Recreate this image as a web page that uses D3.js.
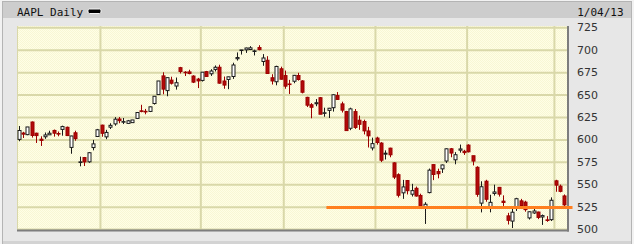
<!DOCTYPE html>
<html>
<head>
<meta charset="utf-8">
<script src="https://cdn.jsdelivr.net/npm/d3@7"></script>
<style>
  html, body { margin: 0; padding: 0; background: #eeeeee; }
  svg { display: block; }
</style>
</head>
<body>
<svg id="chart" width="634" height="244"></svg>
<script>
// AAPL daily candles, 5 Jul 2012 – 4 Jan 2013
const dates = [
  "2012-07-05","2012-07-06","2012-07-09","2012-07-10","2012-07-11","2012-07-12","2012-07-13","2012-07-16","2012-07-17","2012-07-18",
  "2012-07-19","2012-07-20","2012-07-23","2012-07-24","2012-07-25","2012-07-26","2012-07-27","2012-07-30","2012-07-31",
  "2012-08-01","2012-08-02","2012-08-03","2012-08-06","2012-08-07","2012-08-08","2012-08-09","2012-08-10","2012-08-13","2012-08-14",
  "2012-08-15","2012-08-16","2012-08-17","2012-08-20","2012-08-21","2012-08-22","2012-08-23","2012-08-24","2012-08-27","2012-08-28",
  "2012-08-29","2012-08-30","2012-08-31",
  "2012-09-04","2012-09-05","2012-09-06","2012-09-07","2012-09-10","2012-09-11","2012-09-12","2012-09-13","2012-09-14","2012-09-17",
  "2012-09-18","2012-09-19","2012-09-20","2012-09-21","2012-09-24","2012-09-25","2012-09-26","2012-09-27","2012-09-28",
  "2012-10-01","2012-10-02","2012-10-03","2012-10-04","2012-10-05","2012-10-08","2012-10-09","2012-10-10","2012-10-11","2012-10-12",
  "2012-10-15","2012-10-16","2012-10-17","2012-10-18","2012-10-19","2012-10-22","2012-10-23","2012-10-24","2012-10-25","2012-10-26",
  "2012-10-31",
  "2012-11-01","2012-11-02","2012-11-05","2012-11-06","2012-11-07","2012-11-08","2012-11-09","2012-11-12","2012-11-13","2012-11-14",
  "2012-11-15","2012-11-16","2012-11-19","2012-11-20","2012-11-21","2012-11-23","2012-11-26","2012-11-27","2012-11-28","2012-11-29",
  "2012-11-30",
  "2012-12-03","2012-12-04","2012-12-05","2012-12-06","2012-12-07","2012-12-10","2012-12-11","2012-12-12","2012-12-13","2012-12-14",
  "2012-12-17","2012-12-18","2012-12-19","2012-12-20","2012-12-21","2012-12-24","2012-12-26","2012-12-27","2012-12-28","2012-12-31",
  "2013-01-02","2013-01-03","2013-01-04"
];

const open = [
  600.00,607.09,605.30,619.40,606.94,600.24,602.94,605.12,610.00,606.60,611.16,613.50,591.06,607.38,574.46,579.76,575.01,590.92,603.23,
  615.91,602.84,613.63,617.29,622.77,619.39,617.85,618.71,623.39,631.87,631.30,631.21,640.00,650.01,670.82,654.42,666.11,659.51,679.99,674.98,675.25,670.64,667.25,
  665.76,675.57,673.17,678.05,680.45,665.11,666.85,670.13,689.96,699.35,699.88,700.26,698.50,702.41,686.86,688.26,668.74,664.29,678.75,
  671.16,661.81,664.86,671.25,665.20,646.88,638.65,639.74,646.50,629.56,632.35,635.37,648.87,639.59,631.05,612.42,631.00,621.44,620.00,609.43,590.50,
  601.50,595.89,583.52,590.23,573.84,560.63,540.42,554.15,538.91,545.50,537.53,525.20,540.71,571.91,564.25,567.17,575.90,589.55,577.27,588.00,586.79,
  593.65,581.80,568.91,528.94,553.40,523.51,539.77,546.53,531.15,514.75,508.93,525.00,531.47,530.08,512.47,518.00,519.00,513.54,510.29,510.53,
  553.82,547.88,536.97
];

const high = [
  614.90,608.44,613.90,620.00,607.40,603.47,607.69,609.68,611.00,608.80,615.35,614.31,604.00,609.68,580.80,580.40,585.83,599.44,611.70,
  616.40,610.69,617.98,624.87,625.00,623.88,621.73,621.76,630.00,638.61,634.00,636.76,648.19,665.15,674.88,669.00,669.90,669.00,680.87,676.10,677.67,671.55,668.60,
  675.14,676.35,678.29,682.48,683.29,670.10,669.90,685.50,696.98,699.80,702.33,703.99,700.06,705.07,695.12,692.78,672.69,682.17,681.11,
  676.75,666.36,671.86,674.25,666.00,647.56,640.49,644.98,647.20,635.38,635.13,650.30,652.79,642.06,631.77,635.38,633.90,626.55,622.00,614.00,601.96,
  603.00,596.95,587.77,590.74,574.54,562.23,554.88,554.50,550.48,547.45,539.50,530.00,567.50,571.95,567.37,572.00,590.00,590.42,585.80,594.25,588.40,
  594.59,581.80,570.11,553.33,555.00,538.28,549.56,547.00,537.64,518.13,524.00,534.90,533.70,531.64,519.67,524.68,519.46,516.25,514.48,535.40,
  555.00,549.67,538.63
];

const low = [
  597.96,601.58,604.70,602.04,596.00,592.68,600.66,605.00,603.10,603.50,604.16,603.70,584.00,598.51,570.00,570.36,573.90,587.82,603.00,
  603.00,600.25,611.56,615.26,618.04,617.10,617.80,618.70,623.25,630.21,628.00,630.50,638.81,649.90,650.33,648.11,661.15,655.55,673.54,670.67,672.60,662.85,657.25,
  664.50,669.60,670.80,675.77,662.10,656.50,656.00,667.46,687.89,694.61,696.42,699.57,693.62,699.36,682.06,673.04,661.20,660.35,666.75,
  656.50,650.65,662.63,665.55,651.28,636.11,623.55,637.00,628.10,625.30,623.85,631.00,644.00,630.00,609.62,610.30,611.70,610.64,605.55,591.00,587.70,
  594.17,574.75,577.60,580.09,555.75,535.29,533.72,538.65,536.36,536.18,522.62,505.75,539.88,554.58,556.60,562.60,573.71,580.10,572.26,585.25,582.68,
  585.50,571.00,536.00,518.63,530.50,518.69,537.37,536.27,525.80,505.12,501.23,520.25,525.50,519.40,510.66,517.00,511.12,504.66,508.12,509.00,
  541.63,541.00,525.83
];

const close = [
  609.94,605.88,613.89,604.43,604.26,598.90,604.97,606.91,606.94,606.26,614.32,604.30,603.83,600.92,574.97,574.88,585.16,595.03,610.76,
  606.81,607.79,615.70,622.55,620.91,619.86,620.73,621.70,630.00,631.69,630.83,636.34,648.11,665.15,656.06,668.87,662.63,663.22,675.68,674.80,673.47,663.87,665.24,
  674.97,670.23,676.27,680.44,662.74,660.59,669.79,682.98,691.28,699.78,701.91,702.10,698.70,700.09,690.79,673.54,665.18,681.32,667.10,
  659.39,661.31,671.45,666.80,652.59,638.17,635.85,640.91,628.10,629.71,634.76,649.79,644.61,632.64,609.84,634.03,613.36,616.83,609.54,604.00,595.32,
  596.54,576.80,584.62,582.85,558.00,537.75,547.06,542.83,542.90,536.88,525.62,527.68,565.73,560.91,561.70,571.50,589.53,584.78,582.94,589.36,585.28,
  586.19,575.85,538.79,547.24,533.25,529.82,541.39,539.00,529.69,509.79,518.83,533.90,526.31,521.73,519.33,520.17,513.00,515.06,509.59,532.17,
  549.03,542.10,527.00
];

const yTicks = [500, 525, 550, 575, 600, 625, 650, 675, 700, 725];
const supportLevel = 524;          // horizontal level drawn in orange
const supportFrom = "2012-10-15";  // first session the level is drawn from
const titleText = "AAPL Daily";
const dateText = "1/04/13";

const svg = d3.select("#chart");
const W = 634, H = 244;

// panel frame
svg.append("rect").attr("x", 0).attr("y", 0).attr("width", W).attr("height", H).attr("fill", "#f2f2f2");
svg.append("rect").attr("x", 2.5).attr("y", 1.5).attr("width", 629).attr("height", 245)
  .attr("fill", "#e7e7e7").attr("stroke", "#b4b4b4");
svg.append("rect").attr("x", 3).attr("y", 2).attr("width", 628).attr("height", 16).attr("fill", "#cdcdcd");
svg.append("rect").attr("x", 3).attr("y", 241).attr("width", 628).attr("height", 3).attr("fill", "#d3d3d3");

// plot region
const plot = { left: 17, right: 567, top: 26, bottom: 229.5 };

const x = d3.scaleBand().domain(dates).range([16.5, 566.5]).padding(0);
const y = d3.scaleLinear().domain([500, 725]).range([229.1, 27.3]);
const bw = x.bandwidth();
const cx = d => Math.round(x(d) + bw / 2) + 0.5;

// fine dithered yellow background
const defs = svg.append("defs");
const pat = defs.append("pattern").attr("id", "dither").attr("width", 2).attr("height", 2)
  .attr("patternUnits", "userSpaceOnUse");
pat.append("rect").attr("width", 2).attr("height", 2).attr("fill", "#fffee6");
pat.append("rect").attr("x", 0).attr("y", 0).attr("width", 1).attr("height", 1).attr("fill", "#f8f7d4");
pat.append("rect").attr("x", 1).attr("y", 1).attr("width", 1).attr("height", 1).attr("fill", "#f8f7d4");

svg.append("rect")
  .attr("x", plot.left).attr("y", plot.top)
  .attr("width", plot.right - plot.left).attr("height", plot.bottom - plot.top)
  .attr("fill", "url(#dither)");

const gridColor = "#d9d8a9";

// horizontal grid from the y axis ticks
svg.append("g")
  .attr("transform", `translate(${plot.left},0)`)
  .call(d3.axisRight(y).tickValues(yTicks).tickSize(plot.right - plot.left).tickFormat(""))
  .call(g => g.select(".domain").remove())
  .call(g => g.selectAll("line").attr("stroke", gridColor).attr("stroke-width", 2));

// vertical grid at the first session of each month
const monthStarts = dates.filter((d, i) => i > 0 && d.slice(5, 7) !== dates[i - 1].slice(5, 7));
svg.append("g").selectAll("line").data(monthStarts).join("line")
  .attr("x1", d => x(d) + 1).attr("x2", d => x(d) + 1)
  .attr("y1", plot.top).attr("y2", plot.bottom)
  .attr("stroke", gridColor).attr("stroke-width", 2);

// left edge of the plot
svg.append("line").attr("x1", plot.left + 0.5).attr("x2", plot.left + 0.5)
  .attr("y1", plot.top).attr("y2", plot.bottom).attr("stroke", gridColor).attr("stroke-width", 1);

// candles
const candles = dates.map((d, i) => ({ d, o: open[i], h: high[i], l: low[i], c: close[i] }));
const up = "#ffffff", upLine = "#1a1a1a", down = "#b30a0a", downLine = "#9c0000";

const cg = svg.append("g");
cg.selectAll("line.wick").data(candles).join("line")
  .attr("class", "wick")
  .attr("x1", k => cx(k.d)).attr("x2", k => cx(k.d))
  .attr("y1", k => y(k.h)).attr("y2", k => y(k.l))
  .attr("stroke", k => k.c >= k.o ? upLine : downLine)
  .attr("stroke-width", 1);

cg.selectAll("rect.body").data(candles).join("rect")
  .attr("class", "body")
  .attr("x", k => cx(k.d) - 1.5)
  .attr("y", k => y(Math.max(k.o, k.c)))
  .attr("width", 3)
  .attr("height", k => Math.max(0.6, Math.abs(y(k.o) - y(k.c))))
  .attr("fill", k => k.c >= k.o ? up : down)
  .attr("stroke", k => k.c >= k.o ? upLine : downLine)
  .attr("stroke-width", 1);

// bottom and right borders
svg.append("rect").attr("x", plot.left).attr("y", 229.5).attr("width", plot.right - plot.left + 2).attr("height", 2)
  .attr("fill", "#7d7d7d");
svg.append("rect").attr("x", plot.right).attr("y", plot.top).attr("width", 2).attr("height", 231.5 - plot.top)
  .attr("fill", "#7d7d7d");

// support level
svg.append("line")
  .attr("x1", x(supportFrom)).attr("x2", x.range()[1] + 6)
  .attr("y1", y(supportLevel)).attr("y2", y(supportLevel))
  .attr("stroke", "#ff7f1f").attr("stroke-width", 3);

// price labels on the right
svg.append("g")
  .attr("transform", "translate(571,0)")
  .call(d3.axisRight(y).tickValues(yTicks).tickSize(0).tickPadding(6).tickFormat(d3.format("d")))
  .call(g => g.select(".domain").remove())
  .call(g => g.selectAll("text")
    .attr("fill", "#333333")
    .style("font-family", "'DejaVu Sans', Verdana, sans-serif")
    .style("font-size", "11px"));

// header
svg.append("text").attr("x", 17).attr("y", 15.5)
  .attr("fill", "#111111")
  .style("font-family", "'DejaVu Sans Mono', monospace").style("font-size", "11px")
  .text(titleText);
svg.append("rect").attr("x", 88).attr("y", 9).attr("width", 13).attr("height", 4.5).attr("rx", 1.5)
  .attr("fill", "#000000").attr("stroke", "#f4f4f4").attr("stroke-width", 1);
svg.append("text").attr("x", 623.5).attr("y", 15.5).attr("text-anchor", "end")
  .attr("fill", "#111111")
  .style("font-family", "'DejaVu Sans Mono', monospace").style("font-size", "11px")
  .text(dateText);
</script>
</body>
</html>
